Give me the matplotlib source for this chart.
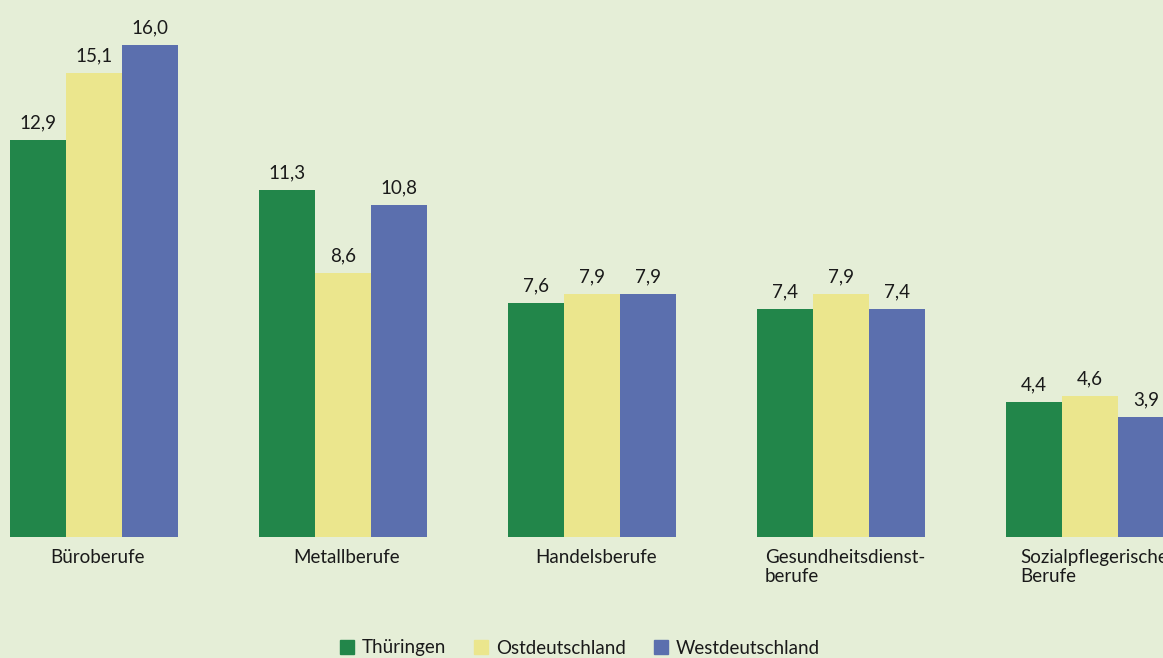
import numpy as np
import matplotlib.pyplot as plt

categories = ["Büroberufe", "Metallberufe", "Handelsberufe",
              "Gesundheitsdienst-\nberufe", "Sozialpflegerische\nBerufe"]
series = ["Thüringen", "Ostdeutschland", "Westdeutschland"]
thueringen = [12.9, 11.3, 7.6, 7.4, 4.4]
ost = [15.1, 8.6, 7.9, 7.9, 4.6]
west = [16.0, 10.8, 7.9, 7.4, 3.9]

colors = ["#22864a", "#ebe68d", "#5b6fae"]
bg = "#e5eed7"
txt = "#1a1a1a"
fs = 13.5

plt.rcParams['font.family'] = ['Lato', 'DejaVu Sans']

W, H = 1163, 658
fig = plt.figure(figsize=(W/100, H/100), dpi=100, facecolor=bg)
base = 537
ax = fig.add_axes([0, (H-base)/H, 1, base/H])
ax.set_facecolor(bg)

x = np.arange(len(categories))
w = 56/249
for k, (vals, name) in enumerate(zip([thueringen, ost, west], series)):
    pos = x + (k-1)*w
    ax.bar(pos, vals, width=w, color=colors[k], label=name, linewidth=0)
    for p, v in zip(pos, vals):
        ax.text(p, v + 0.28, f"{v:.1f}".replace(".", ","), ha='center', va='bottom',
                fontsize=fs, color=txt)

ax.set_xlim(-94/249, (W-94)/249)
ax.set_ylim(0, base/30.75)
ax.axis('off')

# labels sit centred under each group, lines left-aligned
for i, c in enumerate(categories):
    ax.text(i + 4/249, -0.38, c, ha='center', va='top', multialignment='left',
            fontsize=fs, color=txt, linespacing=1.2)

handles = [plt.Rectangle((0, 0), 1, 1, color=c) for c in colors]
fig.legend(handles, series, loc='center', bbox_to_anchor=(580/W, 1-648/H), ncol=3,
           frameon=False, fontsize=fs, handlelength=0.75, handleheight=0.75,
           handletextpad=0.4, columnspacing=1.5, labelcolor=txt)

fig.savefig("out.png", dpi=100, facecolor=bg)
